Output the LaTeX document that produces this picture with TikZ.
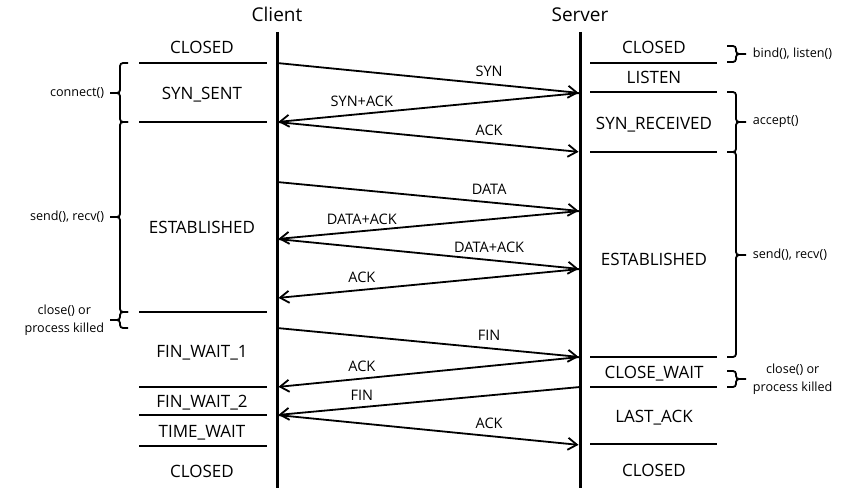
\documentclass[tikz,border=0pt]{standalone}
\usepackage{fontspec}
\setmainfont{Open Sans}
\usepackage{tikz}
\usetikzlibrary{arrows.meta}
\tikzset{
  actor/.style={font=\fontsize{19}{23}\selectfont, text height=13.5pt, text depth=0pt, inner sep=0pt},
  state/.style={font=\fontsize{17}{20}\selectfont, text height=12pt, text depth=0pt, inner sep=0pt},
  msglabel/.style={font=\fontsize{14.5}{17}\selectfont, text height=10.4pt, text depth=0pt, inner sep=0pt},
  calllabel/.style={font=\fontsize{12.6}{17.5}\selectfont, align=center, inner sep=0pt},
  lifeline/.style={line width=3pt},
  statebar/.style={line width=2.8pt},
  msg/.style={-{Straight Barb[length=9pt, width=12pt]}, line width=1.8pt, shorten >=1.5pt},
  callbrace/.style={line width=1.8pt, rounded corners=3pt},
}

\begin{document}
\begin{tikzpicture}[x=1pt, y=-1pt]
  \useasboundingbox (0,0) rectangle (851,488);

  % the two hosts and their time lines
  \node[actor] (client) at (277,15) {Client};
  \node[actor] (server) at (580,15) {Server};
  \coordinate (clientEnd) at (277,488);
  \coordinate (serverEnd) at (580,488);
  \draw[lifeline] ([yshift=-10pt]client.south) -- (clientEnd);
  \draw[lifeline] ([yshift=-10pt]server.south) -- (serverEnd);

  % client states
  \node[state] (cClosed)   at (202,47)  {CLOSED};
  \node[state] (cSynSent)  at (202,93)  {SYN\_SENT};
  \node[state] (cEstab)    at (202,227) {ESTABLISHED};
  \node[state] (cFinWait1) at (202,351) {FIN\_WAIT\_1};
  \node[state] (cFinWait2) at (202,401) {FIN\_WAIT\_2};
  \node[state] (cTimeWait) at (202,431) {TIME\_WAIT};
  \node[state] (cClosedEnd) at (202,471) {CLOSED};
  \draw[statebar] (139,63)  -- (267,63);
  \draw[statebar] (139,122) -- (267,122);
  \draw[statebar] (139,312) -- (267,312);
  \draw[statebar] (139,387) -- (267,387);
  \draw[statebar] (139,415) -- (267,415);
  \draw[statebar] (139,446) -- (267,446);

  % server states
  \node[state] (sClosed)    at (654,47)  {CLOSED};
  \node[state] (sListen)    at (654,77)  {LISTEN};
  \node[state] (sSynRcvd)   at (654,123) {SYN\_RECEIVED};
  \node[state] (sEstab)     at (654,259) {ESTABLISHED};
  \node[state] (sCloseWait) at (654,372) {CLOSE\_WAIT};
  \node[state] (sLastAck)   at (654,416) {LAST\_ACK};
  \node[state] (sClosedEnd) at (654,470) {CLOSED};
  \draw[statebar] (590,63)  -- (717,63);
  \draw[statebar] (590,92)  -- (717,92);
  \draw[statebar] (590,152) -- (717,152);
  \draw[statebar] (590,357) -- (717,357);
  \draw[statebar] (590,387) -- (717,387);
  \draw[statebar] (590,444) -- (717,444);

  % send/receive points on the time lines
  \coordinate (c1) at (277,63);
  \coordinate (c2) at (277,122);
  \coordinate (c3) at (277,182);
  \coordinate (c4) at (277,239);
  \coordinate (c5) at (277,298);
  \coordinate (c6) at (277,328);
  \coordinate (c7) at (277,387);
  \coordinate (c8) at (277,415);
  \coordinate (s1) at (580,93);
  \coordinate (s2) at (580,152);
  \coordinate (s3) at (580,211);
  \coordinate (s4) at (580,269);
  \coordinate (s5) at (580,357);
  \coordinate (s6) at (580,387);
  \coordinate (s7) at (580,445);

  % segments
  \draw[msg] (c1) -- node[msglabel, pos=0.7,  above=7pt] {SYN} (s1);
  \draw[msg] (s1) -- node[msglabel, pos=0.72, above=6pt] {SYN+ACK} (c2);
  \draw[msg] (c2) -- node[msglabel, pos=0.7,  above=7pt] {ACK} (s2);
  \draw[msg] (c3) -- node[msglabel, pos=0.7,  above=7pt] {DATA} (s3);
  \draw[msg] (s3) -- node[msglabel, pos=0.72, above=6pt] {DATA+ACK} (c4);
  \draw[msg] (c4) -- node[msglabel, pos=0.7,  above=7pt] {DATA+ACK} (s4);
  \draw[msg] (s4) -- node[msglabel, pos=0.72, above=6pt] {ACK} (c5);
  \draw[msg] (c6) -- node[msglabel, pos=0.7,  above=7pt] {FIN} (s5);
  \draw[msg] (s5) -- node[msglabel, pos=0.72, above=6pt] {ACK} (c7);
  \draw[msg] (s6) -- node[msglabel, pos=0.72, above=6pt] {FIN} (c8);
  \draw[msg] (c8) -- node[msglabel, pos=0.7,  above=7pt] {ACK} (s7);

  % socket calls, client side
  \draw[callbrace] (128,63) -- (120,63) -- (120,93) -- (110,93)
    node[calllabel, left=5pt] (connectCall) {connect()}
    (110,93) -- (120,93) -- (120,122) -- (128,122);
  \draw[callbrace] (128,122) -- (120,122) -- (120,217) -- (110,217)
    node[calllabel, left=5pt] (cIoCall) {send(), recv()}
    (110,217) -- (120,217) -- (120,312) -- (128,312);
  \draw[callbrace] (128,312) -- (120,312) -- (120,320) -- (110,320)
    node[calllabel, left=5pt] (cCloseCall) {close() or\\process killed}
    (110,320) -- (120,320) -- (120,328) -- (128,328);

  % socket calls, server side
  \draw[callbrace] (727,46) -- (736,46) -- (736,54) -- (746,54)
    node[calllabel, right=6pt] (bindCall) {bind(), listen()}
    (746,54) -- (736,54) -- (736,62) -- (727,62);
  \draw[callbrace] (727,92) -- (736,92) -- (736,122) -- (746,122)
    node[calllabel, right=6pt] (acceptCall) {accept()}
    (746,122) -- (736,122) -- (736,152) -- (727,152);
  \draw[callbrace] (727,152) -- (736,152) -- (736,255) -- (746,255)
    node[calllabel, right=6pt] (sIoCall) {send(), recv()}
    (746,255) -- (736,255) -- (736,357) -- (727,357);
  \draw[callbrace] (727,371) -- (736,371) -- (736,379) -- (746,379)
    node[calllabel, right=6pt] (sCloseCall) {close() or\\process killed}
    (746,379) -- (736,379) -- (736,387) -- (727,387);
\end{tikzpicture}
\end{document}
